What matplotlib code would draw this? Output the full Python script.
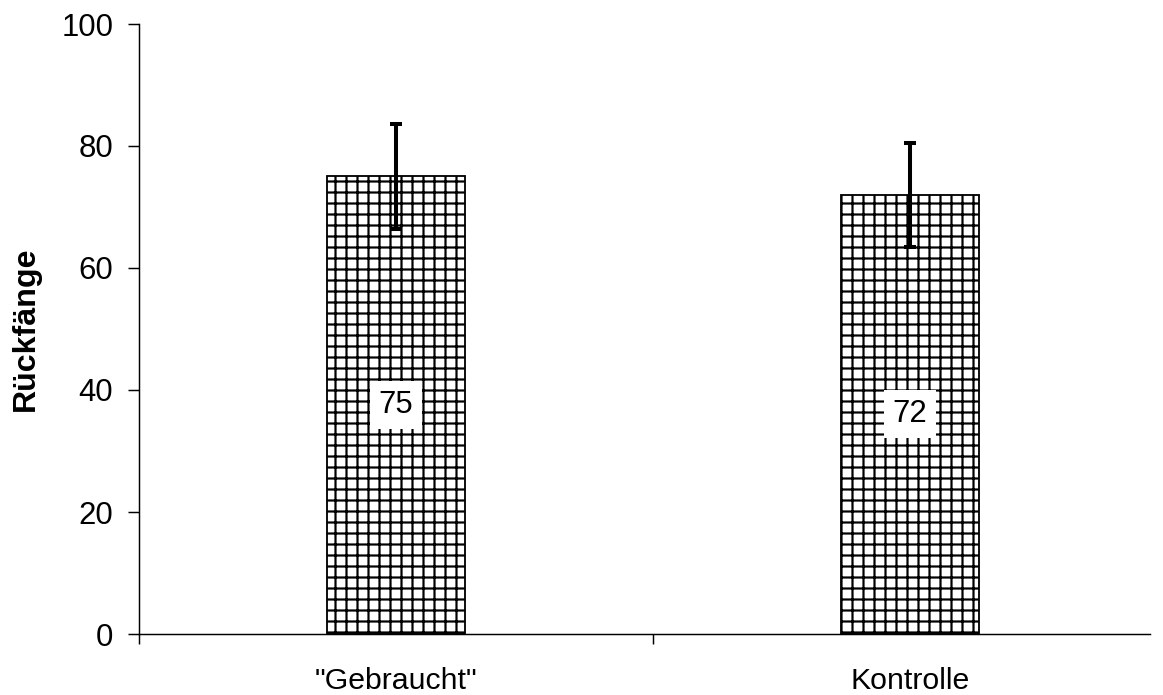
import numpy as np
import matplotlib
matplotlib.use('Agg')
import matplotlib.pyplot as plt

# data
categories = ['"Gebraucht"', 'Kontrolle']
values = [75, 72]
errors = [8.6, 8.5]
ylabel = 'Rückfänge'

plt.rcParams['font.family'] = ['Liberation Sans', 'DejaVu Sans']
plt.rcParams['hatch.linewidth'] = 1.2

DPI = 132
fig = plt.figure(figsize=(1163 / DPI, 695 / DPI), dpi=DPI)
ax = fig.add_axes([139 / 1163, 1 - 634 / 695, (1150 - 139) / 1163, (634 - 24) / 695])

x = np.arange(len(categories))
ax.bar(x, values, width=0.27, color='white', edgecolor='black',
       linewidth=1.0, hatch='++', zorder=2)
ax.errorbar(x, values, yerr=errors, fmt='none', ecolor='black',
            elinewidth=2.2, capsize=3.5, capthick=2.2, zorder=3)

# value labels in the middle of the bars
for xi, v in zip(x, values):
    ax.text(xi, v / 2, str(v), ha='center', va='center', fontsize=17,
            bbox=dict(facecolor='white', edgecolor='none', pad=5), zorder=4)

ax.set_yticks(np.arange(0, 101, 20))

# category labels at the centres, tick marks at the borders
ax.set_xticks(x)
ax.set_xticklabels(categories)
ax.set_xticks([-0.5, 0.5, 1.5], minor=True)
ax.tick_params(axis='x', which='major', length=0, pad=18, labelsize=16.5)
ax.tick_params(axis='x', which='minor', length=5.5, width=0.8, direction='out')
ax.tick_params(axis='y', length=6, width=0.8, direction='out', pad=8, labelsize=17)

# limits after the ticks, so the tick list does not widen the view
ax.set_ylim(0, 100)
ax.set_xlim(-0.5, 1.467)

ax.spines['top'].set_visible(False)
ax.spines['right'].set_visible(False)
ax.spines['left'].set_linewidth(0.8)
ax.spines['bottom'].set_linewidth(0.8)

ax.set_ylabel(ylabel, fontsize=17.5, fontweight='bold', labelpad=11)

fig.savefig('out.png', dpi=DPI)
